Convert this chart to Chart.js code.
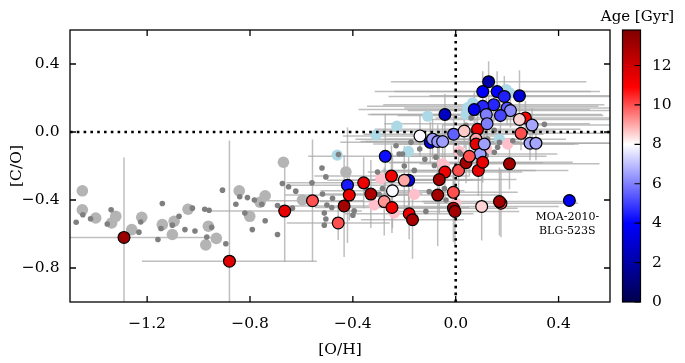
<!DOCTYPE html>
<html>
<head>
<meta charset="utf-8">
<script src="https://cdn.jsdelivr.net/npm/chart.js@4.4.1/dist/chart.umd.min.js"></script>
<style>
  html, body { margin: 0; padding: 0; background: #fff; }
</style>
</head>
<body>
<canvas id="myChart" width="685" height="363"></canvas>
<script>
// axis limits and ticks
var xRange = [-1.5, 0.6];
var yRange = [-1.0, 0.6];
var xTicks = [-1.2, -0.8, -0.4, 0.0, 0.4];
var yTicks = [-0.8, -0.4, 0.0, 0.4];
var ageRange = [0, 13.8];
var ageTicks = [0, 2, 4, 6, 8, 10, 12];

// stars with ages (coloured points)
var starX = [-1.29, -0.88, -0.665, -0.557, -0.457, -0.434, -0.421, -0.414, -0.358, -0.33,
  -0.274, -0.25, -0.183, -0.2, -0.246, -0.278, -0.248, -0.181, -0.168, -0.139,
  -0.099, -0.09, -0.07, -0.051, -0.008, 0.033, -0.042, 0.085, 0.079, 0.079,
  0.095, 0.111, -0.042, -0.064, -0.07, -0.009, -0.009, -0.003, 0.011, 0.04,
  0.053, 0.088, 0.105, 0.209, 0.101, 0.176, 0.17, 0.128, 0.105, 0.161,
  0.189, 0.248, 0.148, 0.105, 0.072, 0.119, 0.2, 0.213, 0.174, 0.122,
  0.271, 0.248, 0.297, 0.254, 0.289, 0.312, 0.442];
var starY = [-0.62, -0.76, -0.465, -0.404, -0.535, -0.435, -0.313, -0.371, -0.299, -0.365,
  -0.143, -0.259, -0.284, -0.284, -0.346, -0.409, -0.444, -0.481, -0.516, -0.023,
  -0.061, -0.042, -0.056, -0.056, -0.013, 0.006, 0.103, 0.016, -0.042, -0.071,
  -0.13, -0.071, -0.236, -0.28, -0.371, -0.355, -0.448, -0.467, -0.226, -0.181,
  -0.143, -0.226, -0.178, -0.187, -0.438, -0.419, -0.409, 0.296, 0.238, 0.238,
  0.209, 0.213, 0.161, 0.151, 0.132, 0.103, 0.141, 0.126, 0.097, 0.049,
  0.083, 0.074, 0.041, -0.008, -0.066, -0.066, -0.403];
var starAge = [13.2, 11.6, 11.4, 10, 10, 13, 4.4, 11.4, 11.3, 12.8,
  4.2, 11.2, 3.8, 9, 7.9, 9.2, 11.3, 11.4, 12.9, 7.9,
  3.6, 6.4, 6.4, 6.5, 5.5, 8.6, 2.6, 11.5, 9, 11.5,
  6.5, 6.5, 11.3, 13, 13, 10, 13, 13, 10, 13,
  10, 11.4, 11.4, 13, 8.5, 10, 13, 2, 4, 4,
  4.5, 3, 4.6, 4.6, 3.6, 6, 5.4, 6.2, 5.1, 6,
  11, 8.5, 6.6, 10, 6.6, 6.6, 3.6];
var starXerr = [0.38, 0.34, 0.3, 0.2, 0.2, 0.25, 0.22, 0.25, 0.3, 0.2,
  0.3, 0.3, 0.25, 0.3, 0.28, 0.25, 0.3, 0.25, 0.2, 0.3,
  0.35, 0.3, 0.3, 0.3, 0.35, 0.35, 0.3, 0.4, 0.35, 0.4,
  0.3, 0.35, 0.3, 0.3, 0.25, 0.25, 0.25, 0.25, 0.3, 0.3,
  0.3, 0.35, 0.35, 0.35, 0.3, 0.3, 0.3, 0.38, 0.42, 0.4,
  0.45, 0.35, 0.43, 0.45, 0.45, 0.45, 0.4, 0.4, 0.4, 0.4,
  0.35, 0.35, 0.35, 0.35, 0.35, 0.3, 0];
var starYerr = [0.47, 0.71, 0.3, 0.36, 0.1, 0.3, 0.34, 0.15, 0.15, 0.2,
  0.25, 0.18, 0.15, 0.2, 0.22, 0.2, 0.15, 0.15, 0.23, 0.12,
  0.12, 0.12, 0.1, 0.1, 0.12, 0.1, 0.12, 0.1, 0.12, 0.12,
  0.1, 0.12, 0.15, 0.2, 0.3, 0.15, 0.2, 0.2, 0.15, 0.12,
  0.12, 0.15, 0.12, 0.15, 0.2, 0.2, 0.2, 0.12, 0.12, 0.12,
  0.12, 0.15, 0.1, 0.1, 0.1, 0.1, 0.1, 0.1, 0.1, 0.1,
  0.1, 0.1, 0.1, 0.1, 0.1, 0.1, 0];

// comparison samples (no ages)
var bigGrayX = [-1.452, -1.452, -1.40, -1.322, -1.338, -1.26, -1.221, -1.141, -1.095, -1.102,
  -1.041, -0.962, -0.972, -0.931, -0.842, -0.801, -0.761, -0.741, -0.67, -0.596, -0.427];
var bigGrayY = [-0.346, -0.458, -0.506, -0.496, -0.535, -0.574, -0.502, -0.545, -0.525, -0.603,
  -0.454, -0.554, -0.664, -0.626, -0.346, -0.496, -0.413, -0.375, -0.178, -0.40, -0.235];

var smallGrayX = [-1.476, -1.45, -1.42, -1.355, -1.34, -1.232, -1.225, -1.158, -1.146, -1.141,
  -1.102, -1.076, -1.053, -1.024, -1.014, -0.976, -0.959, -0.968, -0.949, -0.907,
  -0.894, -0.855, -0.84, -0.82, -0.81, -0.791, -0.783, -0.754, -0.741, -0.693,
  -0.693, -0.674, -0.65, -0.622, -0.635, -0.456, -0.52, -0.505, -0.559, -0.518,
  -0.479, -0.501, -0.482, -0.511, -0.505, -0.511, -0.395, -0.4, -0.304, -0.285,
  -0.298, -0.161, -0.116, -0.103, -0.232, -0.22, -0.174, -0.077, -0.083, -0.057,
  -0.044, -0.038, 0.014, 0.118, 0.15, 0.163, 0.124, 0.15, 0.345, 0.02,
  0.06, -0.207, 0.222, 0.17, 0.04, -0.14, -0.12, -0.35, -0.2];
var smallGrayY = [-0.531, -0.487, -0.51, -0.541, -0.458, -0.589, -0.529, -0.632, -0.568, -0.421,
  -0.548, -0.496, -0.574, -0.448, -0.583, -0.454, -0.46, -0.618, -0.56, -0.342,
  -0.657, -0.425, -0.381, -0.477, -0.386, -0.574, -0.4, -0.425, -0.522, -0.603,
  -0.433, -0.303, -0.322, -0.348, -0.448, -0.133, -0.212, -0.264, -0.299, -0.365,
  -0.39, -0.429, -0.444, -0.477, -0.512, -0.548, -0.464, -0.49, -0.235, -0.332,
  -0.367, -0.226, -0.467, -0.351, -0.081, -0.129, -0.061, -0.148, -0.197, -0.293,
  -0.332, -0.4, -0.119, -0.139, -0.119, -0.09, -0.042, 0.01, 0.045, -0.129,
  0.083, -0.129, -0.052, -0.06, 0.04, -0.1, -0.16, -0.33, -0.2];

var blueX = [-0.109, -0.229, -0.31, -0.461, -0.184, 0.046, 0.066, 0.04, 0.196, 0.17, 0.09, 0.21];
var blueY = [0.093, 0.034, -0.017, -0.136, -0.114, 0.143, 0.172, 0.103, 0.25, -0.042, 0.13, 0.23];

var pinkX = [-0.291, -0.161, -0.317, -0.239, -0.044, 0.001, 0.202, 0.014, -0.051, 0.12];
var pinkY = [-0.274, -0.367, -0.429, -0.477, -0.197, -0.419, -0.071, -0.114, -0.187, -0.1];

var noteText = ['MOA-2010-', 'BLG-523S'];
var noteAt = [0.434, -0.5];

var serif = "'DejaVu Serif', serif";

// seismic-like map, white at 8 Gyr
var ageStops = [[0, [0, 0, 77]], [4, [0, 0, 255]], [8, [255, 255, 255]], [10.9, [255, 0, 0]], [13.8, [128, 0, 0]]];
function ageColor(v) {
  if (v <= ageStops[0][0]) return 'rgb(' + ageStops[0][1].join(',') + ')';
  for (var i = 1; i < ageStops.length; i++) {
    if (v <= ageStops[i][0]) {
      var a = ageStops[i - 1], b = ageStops[i];
      var t = (v - a[0]) / (b[0] - a[0]);
      var c = a[1].map(function (q, k) { return Math.round(q + (b[1][k] - q) * t); });
      return 'rgb(' + c.join(',') + ')';
    }
  }
  return 'rgb(' + ageStops[ageStops.length - 1][1].join(',') + ')';
}

function pts(xs, ys) {
  return xs.map(function (x, i) { return { x: x, y: ys[i] }; });
}

function fmt(v) {
  return v.toFixed(1).replace('-', '\u2212');
}

var errorBars = {
  id: 'errorBars',
  beforeDatasetsDraw: function (chart) {
    var ctx = chart.ctx, xs = chart.scales.x, ys = chart.scales.y, a = chart.chartArea;
    ctx.save();
    ctx.beginPath();
    ctx.rect(a.left, a.top, a.right - a.left, a.bottom - a.top);
    ctx.clip();
    ctx.strokeStyle = 'rgba(170,170,170,0.75)';
    ctx.lineWidth = 1.5;
    starX.forEach(function (x, i) {
      var y = starY[i];
      if (starXerr[i] > 0) {
        ctx.beginPath();
        ctx.moveTo(xs.getPixelForValue(x - starXerr[i]), ys.getPixelForValue(y));
        ctx.lineTo(xs.getPixelForValue(x + starXerr[i]), ys.getPixelForValue(y));
        ctx.stroke();
      }
      if (starYerr[i] > 0) {
        ctx.beginPath();
        ctx.moveTo(xs.getPixelForValue(x), ys.getPixelForValue(y - starYerr[i]));
        ctx.lineTo(xs.getPixelForValue(x), ys.getPixelForValue(y + starYerr[i]));
        ctx.stroke();
      }
    });
    ctx.restore();
  }
};

var frame = {
  id: 'frame',
  afterDraw: function (chart) {
    var ctx = chart.ctx, a = chart.chartArea;
    var xs = chart.scales.x, ys = chart.scales.y, cs = chart.scales.age;
    var tl = 6;
    ctx.save();
    // note next to the lone star
    ctx.fillStyle = '#000';
    ctx.font = '11px ' + serif;
    ctx.textAlign = 'center';
    ctx.textBaseline = 'middle';
    var nx = xs.getPixelForValue(noteAt[0]), ny = ys.getPixelForValue(noteAt[1]);
    noteText.forEach(function (t, i) { ctx.fillText(t, nx, ny + i * 14); });

    // frame and inward ticks
    ctx.strokeStyle = '#000';
    ctx.lineWidth = 1.3;
    ctx.strokeRect(a.left, a.top, a.right - a.left, a.bottom - a.top);
    ctx.beginPath();
    xTicks.forEach(function (v) {
      var p = xs.getPixelForValue(v);
      ctx.moveTo(p, a.bottom); ctx.lineTo(p, a.bottom - tl);
      ctx.moveTo(p, a.top); ctx.lineTo(p, a.top + tl);
    });
    yTicks.forEach(function (v) {
      var p = ys.getPixelForValue(v);
      ctx.moveTo(a.left, p); ctx.lineTo(a.left + tl, p);
      ctx.moveTo(a.right, p); ctx.lineTo(a.right - tl, p);
    });
    ctx.stroke();

    // colour bar
    var bx = a.right + 12.5, bw = 18;
    var b0 = cs.getPixelForValue(ageRange[0]), b1 = cs.getPixelForValue(ageRange[1]);
    var g = ctx.createLinearGradient(0, b0, 0, b1);
    for (var v = ageRange[0]; v <= ageRange[1] + 1e-9; v += 0.1) {
      g.addColorStop(Math.min(1, (v - ageRange[0]) / (ageRange[1] - ageRange[0])), ageColor(v));
    }
    ctx.fillStyle = g;
    ctx.fillRect(bx, b1, bw, b0 - b1);
    ctx.lineWidth = 1.2;
    ctx.strokeRect(bx, b1, bw, b0 - b1);
    ctx.beginPath();
    ageTicks.forEach(function (v) {
      var p = cs.getPixelForValue(v);
      ctx.moveTo(bx + bw, p); ctx.lineTo(bx + bw - tl, p);
    });
    ctx.stroke();
    ctx.fillStyle = '#000';
    ctx.font = '15px ' + serif;
    ctx.textAlign = 'center';
    ctx.textBaseline = 'middle';
    ctx.fillText('Age [Gyr]', bx + bw / 2 + 6, a.top - 13);
    ctx.restore();
  }
};

function noPadV(s, w) {
  s.width = w;
  s.paddingTop = 0;
  s.paddingBottom = 0;
}

var ctx = document.getElementById('myChart').getContext('2d');
var myChart = new Chart(ctx, {
  type: 'scatter',
  data: {
    datasets: [
      { data: pts(blueX, blueY), backgroundColor: '#add8e6', pointRadius: 5.6, borderWidth: 0, order: 7 },
      { data: pts(pinkX, pinkY), backgroundColor: '#ffc0cb', pointRadius: 5.6, borderWidth: 0, order: 6 },
      { data: pts(bigGrayX, bigGrayY), backgroundColor: '#b4b4b4', pointRadius: 5.8, borderWidth: 0, order: 5 },
      { data: pts(smallGrayX, smallGrayY), backgroundColor: '#7f7f7f', pointRadius: 2.8, borderWidth: 0, order: 4 },
      { type: 'line', data: [{ x: 0, y: yRange[0] }, { x: 0, y: yRange[1] }], borderColor: '#000',
        borderWidth: 2.6, borderDash: [2.6, 4.2], pointRadius: 0, order: 2 },
      { type: 'line', data: [{ x: xRange[0], y: 0 }, { x: xRange[1], y: 0 }], borderColor: '#000',
        borderWidth: 2.6, borderDash: [2.6, 4.2], pointRadius: 0, order: 2 },
      { data: pts(starX, starY), backgroundColor: starAge.map(ageColor), borderColor: '#000',
        borderWidth: 1.2, pointRadius: 5.9, order: 1 }
    ]
  },
  options: {
    responsive: false,
    animation: false,
    devicePixelRatio: 1,
    events: [],
    layout: { padding: { top: 30, left: 0, right: 0, bottom: 0 } },
    plugins: { legend: { display: false }, tooltip: { enabled: false } },
    scales: {
      x: {
        type: 'linear', min: xRange[0], max: xRange[1],
        grid: { display: false, drawTicks: false }, border: { display: false },
        afterBuildTicks: function (s) { s.ticks = xTicks.map(function (v) { return { value: v }; }); },
        afterFit: function (s) { s.height = 61; s.paddingLeft = 0; s.paddingRight = 0; },
        ticks: { color: '#000', font: { family: serif, size: 15.5 }, padding: 13, maxRotation: 0,
          callback: function (v) { return fmt(v); } },
        title: { display: true, text: '[O/H]', color: '#000', font: { family: serif, size: 15.5 },
          padding: { top: 0, bottom: 4 } }
      },
      y: {
        type: 'linear', min: yRange[0], max: yRange[1],
        grid: { display: false, drawTicks: false }, border: { display: false },
        afterBuildTicks: function (s) { s.ticks = yTicks.map(function (v) { return { value: v }; }); },
        afterFit: function (s) { noPadV(s, 70); },
        ticks: { color: '#000', font: { family: serif, size: 15.5 }, padding: 10.5,
          callback: function (v) { return fmt(v); } },
        title: { display: true, text: '[C/O]', color: '#000', font: { family: serif, size: 15.5 },
          padding: { top: 8, bottom: 0 } }
      },
      age: {
        type: 'linear', position: 'right', axis: 'y', min: ageRange[0], max: ageRange[1],
        grid: { display: false, drawTicks: false }, border: { display: false },
        afterBuildTicks: function (s) { s.ticks = ageTicks.map(function (v) { return { value: v }; }); },
        afterFit: function (s) { noPadV(s, 75); },
        ticks: { color: '#000', font: { family: serif, size: 15.5 }, padding: 42,
          callback: function (v) { return String(v); } }
      }
    }
  },
  plugins: [errorBars, frame]
});
</script>
</body>
</html>
